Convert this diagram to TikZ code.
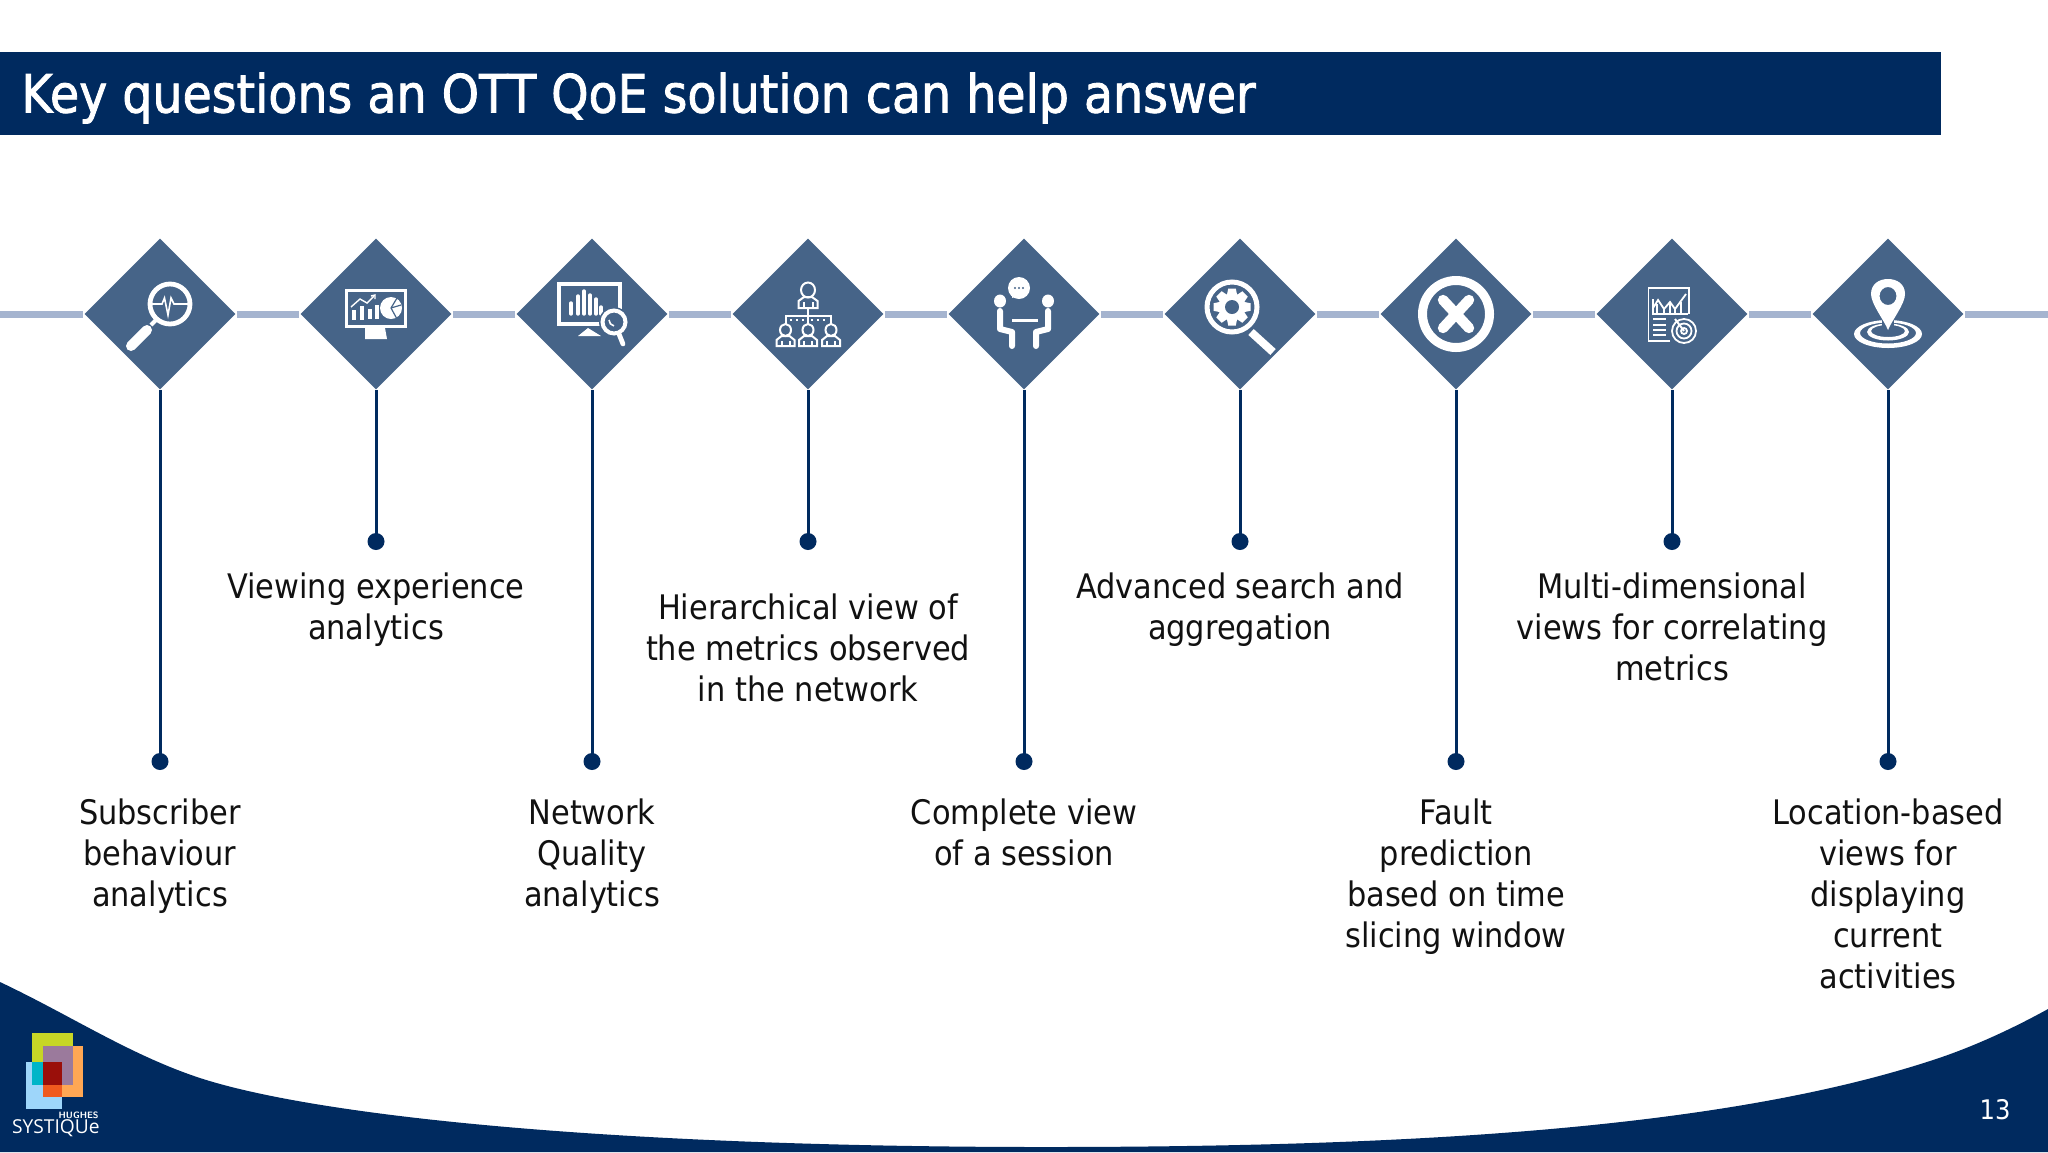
\documentclass[tikz,border=0pt]{standalone}
\usepackage{fontspec}
\setmainfont{DejaVu Sans Condensed}
\newfontfamily\titlefont[FakeBold=1.6]{DejaVu Sans Condensed}
\newfontfamily\lgfont{Open Sans}
\usetikzlibrary{shapes.geometric}
\definecolor{navy}{HTML}{002A5F}
\definecolor{diam}{HTML}{466488}
\definecolor{tline}{HTML}{A5B4CF}
\definecolor{inkt}{HTML}{111111}
\definecolor{lgyellow}{RGB}{199,214,38}
\definecolor{lgorange}{RGB}{255,167,84}
\definecolor{lgblue}{RGB}{158,214,250}
\definecolor{lgpurple}{RGB}{155,122,156}
\definecolor{lgteal}{RGB}{0,181,200}
\definecolor{lgdeep}{RGB}{240,90,30}
\definecolor{lgred}{RGB}{154,15,10}
\tikzset{
  x=0.5pt,y=-0.5pt,
  mile/.style={diamond,aspect=1,fill=diam,draw=none,inner sep=0pt,minimum width=75.5pt,minimum height=75.5pt},
  tl/.style={draw=tline,line width=3.5pt},
  stem/.style={draw=navy,line width=1.5pt},
  dotn/.style={circle,fill=navy,draw=none,inner sep=0pt,minimum size=8.5pt},
  lab/.style={align=center,anchor=north,inner sep=0pt,text=inkt,font=\fontsize{16.9}{20.5}\selectfont},
}
\begin{document}
\begin{tikzpicture}
\useasboundingbox (0,0) rectangle (2048,1152);
\fill[white] (0,0) rectangle (2048,1152);
% title
\node[fill=navy,minimum width=970.5pt,minimum height=41.5pt,inner sep=0pt,anchor=north west] (bar) at (0,52) {};
\node[anchor=west,inner sep=0pt,text=white,font=\titlefont\fontsize{26.4}{30}\selectfont] (title) at (21,98) {Key questions an OTT QoE solution can help answer};
% bottom wave
\fill[navy] (0,982) .. controls (70,1015) and (130,1055) .. (200,1078) .. controls (320,1117) and (620,1147) .. (1045,1147) .. controls (1400,1147) and (1720,1130) .. (1933,1060) .. controls (1970,1048) and (2010,1030) .. (2048,1009) -- (2048,1152) -- (0,1152) -- cycle;
% timeline
\coordinate (tl0) at (0,314);
\coordinate (tl1) at (2048,314);
\foreach \i/\cx in {1/160,2/376,3/592,4/808,5/1024,6/1240,7/1456,8/1672,9/1888}{
  \node[mile] (d\i) at (\cx,314) {};
}
\draw[tl] (tl0) -- ([xshift=-0.5pt]d1.west);
\foreach \a/\b in {1/2,2/3,3/4,4/5,5/6,6/7,7/8,8/9}{
  \draw[tl] ([xshift=0.5pt]d\a.east) -- ([xshift=-0.5pt]d\b.west);
}
\draw[tl] ([xshift=0.5pt]d9.east) -- (tl1);
% dots and stems
\foreach \i/\cx/\yy in {1/160/761.5,2/376/541.5,3/592/761.5,4/808/541.5,5/1024/761.5,6/1240/541.5,7/1456/761.5,8/1672/541.5,9/1888/761.5}{
  \node[dotn] (p\i) at (\cx,\yy) {};
  \draw[stem] (d\i.south) -- (p\i.center);
}
% labels
\node[lab] (t1) at (160,798) {Subscriber\\behaviour\\analytics};
\node[lab] (t2) at (376,572) {Viewing experience\\analytics};
\node[lab] (t3) at (592,798) {Network\\Quality\\analytics};
\node[lab] (t4) at (808,593) {Hierarchical view of\\the metrics observed\\in the network};
\node[lab] (t5) at (1024,798) {Complete view\\of a session};
\node[lab] (t6) at (1240,572) {Advanced search and\\aggregation};
\node[lab] (t7) at (1456,798) {Fault\\prediction\\based on time\\slicing window};
\node[lab] (t8) at (1672,572) {Multi-dimensional\\views for correlating\\metrics};
\node[lab] (t9) at (1888,798) {Location-based\\views for\\displaying\\current\\activities};
% page number
\node[inner sep=0pt,text=white,font=\fontsize{13.5}{16}\selectfont] (pg) at (1995,1110) {13};
% icon 1
\begin{scope}[shift={(160,314)}]
  \draw[white,line width=2.4pt] (10,-10) circle (20);
  \draw[white,line width=0.8pt] (-9,-10) -- (2,-10) -- (4.5,-16) -- (8,1) -- (11,-16) -- (14,-10) -- (29,-10);
  \draw[white,line width=2pt] (-4,6) -- (-9,11);
  \draw[white,line width=5pt,line cap=round] (-13,16) -- (-29,32);
\end{scope}
% icon 2
\begin{scope}[shift={(376,314)}]
  \draw[white,line width=1.5pt] (-29.5,-23.5) rectangle (29.5,12.5);
  \fill[white] (-11,14) -- (9,14) -- (11,25) -- (-11,25) -- cycle;
  \foreach \xa/\ya in {-24/-4,-16/-8,-8/-5,-1/-9}{ \fill[white] (\xa,\ya) rectangle ++(4,\ifnum\ya<-6 14\else 10\fi); }
  \draw[white,line width=0.7pt] (-25,-7) -- (-16,-15) -- (-9,-11) -- (-2,-18);
  \draw[white,line width=0.7pt] (-5,-18) -- (-1,-19) -- (-1,-15);
  \fill[white] (15,-6) circle (11);
  \draw[diam,line width=0.6pt] (15,-6) -- (21,-16);
  \draw[diam,line width=0.6pt] (15,-6) -- (25,-9);
  \draw[diam,line width=0.6pt] (15,-6) -- (21,5);
\end{scope}
% icon 3
\begin{scope}[shift={(592,314)}]
  \draw[white,line width=2pt] (-33,-30) rectangle (28,10);
  \fill[white] (-4,14) -- (-14,22) -- (9,22) -- cycle;
  \foreach \xa/\hh in {-21/11,-14/18,-8/23,-2/19,4/15,9/7}{ \draw[white,line width=1.7pt,line cap=round] (\xa,0) -- (\xa,-\hh); }
  \fill[diam] (22,8) circle (15);
  \draw[white,line width=2pt] (22,8) circle (11.5);
  \draw[white,line width=0.8pt] (17,6) arc (180:100:6);
  \draw[white,line width=2.4pt,line cap=round] (27,20) -- (31,30);
\end{scope}
% icon 4
\begin{scope}[shift={(808,314)}]
  \tikzset{pers/.style={draw=white,line width=1pt,fill=none}}
  \draw[pers] (0,-24) ellipse (7 and 7.5);
  \draw[pers] (-9.5,-6) -- (-9.5,-13) -- (-4,-17) -- (4,-17) -- (9.5,-13) -- (9.5,-6) -- cycle;
  \draw[pers] (-4.5,-6) -- (-4.5,-12) (4.5,-6) -- (4.5,-12);
  \draw[pers] (0,-6) -- (0,10) (-22.5,10) -- (-22.5,2) -- (22.5,2) -- (22.5,10);
  \draw[white,line width=1pt,dash pattern=on 1pt off 2pt] (-18,6) -- (-3,6) (3,6) -- (18,6);
  \foreach \dx in {-22.5,0,23}{
    \begin{scope}[shift={(\dx,0)}]
      \draw[pers] (0,16) ellipse (5.5 and 6);
      \draw[pers] (-9,32) -- (-9,26) -- (-4,22) -- (4,22) -- (9,26) -- (9,32) -- cycle;
      \draw[pers] (-4,32) -- (-4,27) (4,32) -- (4,27);
    \end{scope}
  }
\end{scope}
% icon 5
\begin{scope}[shift={(1024,314)}]
  \fill[white] (-5,-26) circle (11);
  \fill[white] (-12,-20) -- (-12,-16) -- (-4,-19) -- cycle;
  \foreach \dx in {-9,-5,-1}{ \fill[diam] (\dx,-26) circle (1.2); }
  \foreach \sx in {-1,1}{
    \fill[white] (\sx*24,-13) ellipse (6 and 6.5);
    \draw[white,line width=3pt,line cap=round,line join=round] (\sx*24,-3) -- (\sx*24,15) -- (\sx*12,18) -- (\sx*12,32);
  }
  \fill[white] (-12.5,4.5) rectangle (14,8);
\end{scope}
% icon 6
\begin{scope}[shift={(1240,314)}]
  \draw[white,line width=2.5pt] (-8,-7) circle (25);
  \begin{scope}[shift={(-8,-7)}]
    \fill[white] (0,0) circle (13.5);
    \foreach \an in {0,45,...,315}{
      \begin{scope}[rotate=\an]
        \fill[white] (-3.8,-18.5) -- (3.8,-18.5) -- (5.5,-10) -- (-5.5,-10) -- cycle;
      \end{scope}
    }
    \fill[diam] (0,0) circle (7);
  \end{scope}
  \draw[white,line width=4pt] (11,18) -- (33,38);
\end{scope}
% icon 7
\begin{scope}[shift={(1456,314)}]
  \draw[white,line width=4.5pt] (0,0) circle (33.5);
  \draw[white,line width=5.2pt,line cap=round] (-13,-14) -- (13,14) (-13,14) -- (13,-14);
\end{scope}
% icon 8
\begin{scope}[shift={(1672,314)}]
  \draw[white,line width=0.9pt] (-2,27) -- (-23.5,27) -- (-23.5,-26) -- (17,-26) -- (17,0);
  \draw[white,line width=0.8pt] (-19,1) -- (-19,-15);
  \draw[white,line width=0.8pt] (-19,0) -- (16,0);
  \draw[white,line width=0.9pt] (-19,-6) -- (-14,-14) -- (-8,-5) -- (-2,-12) -- (3,-5) -- (14,-20);
  \foreach \xa/\ya in {-15/-10,-8/-5,-2/-11,3/-5,9/-12}{ \draw[white,line width=0.6pt] (\xa,\ya) -- (\xa,0); }
  \foreach \yy in {5,11,16,21}{ \draw[white,line width=1pt] (-19,\yy) -- (-6,\yy); }
  \draw[white,line width=0.9pt] (12,17) circle (12);
  \draw[white,line width=0.9pt] (12,17) circle (7.5);
  \draw[white,line width=0.9pt] (12,17) circle (3);
  \draw[white,line width=1pt] (12,17) -- (3,5);
\end{scope}
% icon 9
\begin{scope}[shift={(1888,314)}]
  \fill[white,even odd rule] (0,20) ellipse (34 and 14) (0,19) ellipse (28 and 10.5);
  \fill[white,even odd rule] (0,18) ellipse (21 and 8.5) (0,17) ellipse (17 and 6);
  \fill[diam] (-6,6) -- (6,6) -- (6,16) -- (-6,16) -- cycle;
  \fill[white,even odd rule] (0,16) .. controls (-4,6) and (-17,-10) .. (-17,-20) .. controls (-17,-30) and (-9,-35) .. (0,-35) .. controls (9,-35) and (17,-30) .. (17,-20) .. controls (17,-10) and (4,6) .. (0,16) -- cycle (0,-18) ellipse (8.5 and 9);
\end{scope}
% logo
\fill[lgyellow] (32,1033) rectangle (73,1085);
\fill[lgorange] (43,1046) rectangle (83,1097);
\fill[lgblue] (26,1062) rectangle (62,1109);
\fill[lgpurple] (43,1046) rectangle (73,1085);
\fill[lgteal] (32,1062) rectangle (43,1085);
\fill[lgdeep] (43,1085) rectangle (62,1097);
\fill[lgred] (43,1062) rectangle (62,1085);
\node[inner sep=0pt,anchor=east,text=white,font=\sffamily\bfseries\fontsize{4.6}{5}\selectfont] (lg1) at (99,1115) {HUGHES};
\node[inner sep=0pt,anchor=east,text=white,font=\lgfont\fontsize{9.6}{10}\selectfont] (lg2) at (100,1128) {SYSTIQUe};
\end{tikzpicture}
\end{document}
